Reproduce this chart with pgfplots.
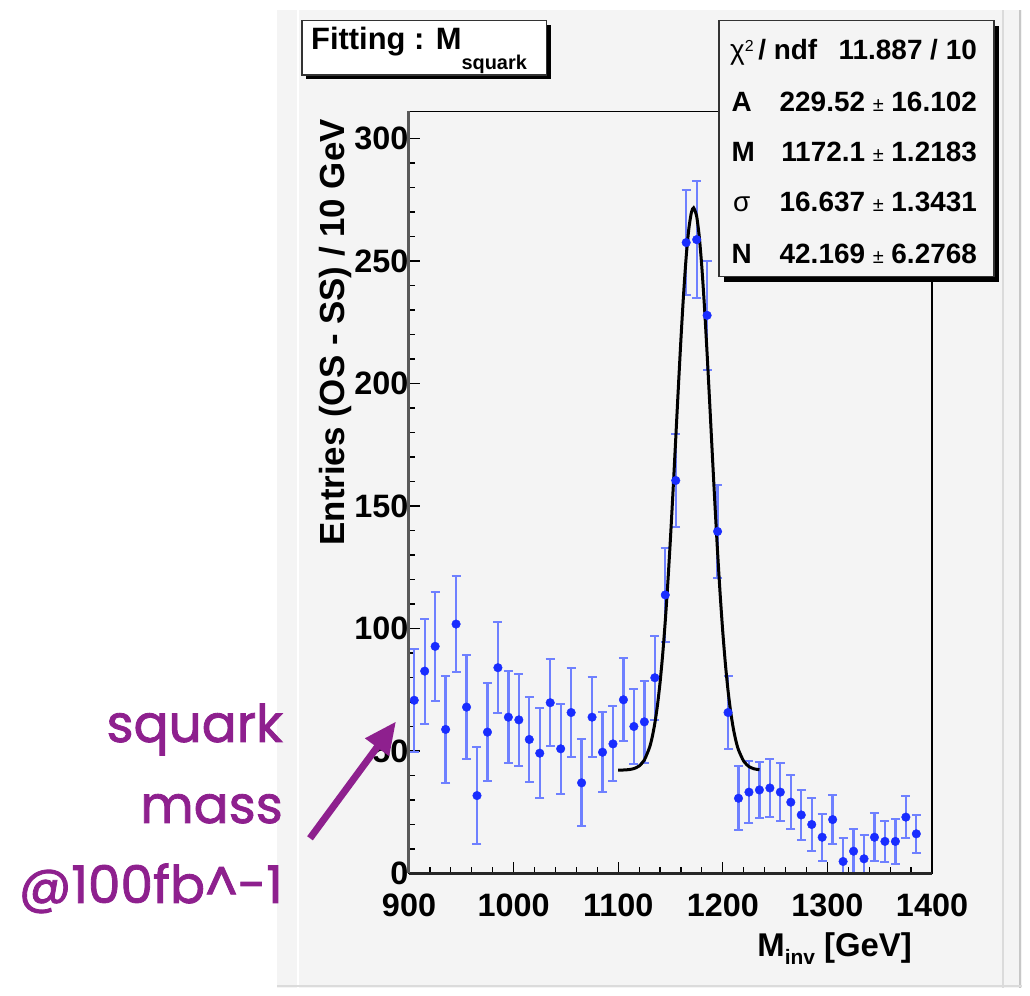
\documentclass[border=0pt]{standalone}
\usepackage{fontspec}
\setmainfont{Liberation Sans}
\newfontfamily\annfont[FakeBold=1.6]{Poppins}
\usepackage{pgfplots}
\usepackage{pgfplotstable}
\pgfplotsset{compat=1.18}
\usetikzlibrary{arrows.meta}
\definecolor{canvas}{RGB}{244,244,244}
\definecolor{markblue}{RGB}{25,45,255}
\definecolor{barblue}{RGB}{110,128,255}
\definecolor{annot}{RGB}{142,32,142}

\pgfplotstableread{
x y e
905 70.7 21.1
915 82.6 21.4
925 92.7 22.2
935 58.8 22.0
945 101.8 19.6
955 67.9 21.1
965 31.8 19.9
975 57.7 20.1
985 84.0 18.5
995 63.8 18.7
1005 62.7 18.7
1015 54.7 17.4
1025 49.1 18.3
1035 69.7 17.7
1045 50.9 18.4
1055 65.7 18.0
1065 37.0 17.7
1075 63.8 16.3
1085 49.5 16.3
1095 52.9 15.3
1105 70.9 17.0
1115 60.0 15.3
1125 61.9 16.6
1135 79.9 17.2
1145 113.7 19.3
1155 160.4 18.9
1165 257.5 21.4
1175 258.7 23.9
1185 227.8 22.2
1195 139.6 18.8
1205 65.7 14.7
1215 30.7 13.0
1225 33.2 12.7
1235 34.1 11.5
1245 34.9 11.9
1255 33.2 11.7
1265 29.1 11.0
1275 23.9 10.3
1285 20.0 10.9
1295 14.8 9.6
1305 22.0 9.9
1315 4.9 9.6
1325 9.1 9.1
1335 6.0 9.9
1345 14.8 9.9
1355 13.1 8.3
1365 13.1 9.2
1375 23.0 8.5
1385 16.2 7.8
}\histdata

\pgfplotstableread{
x y
1100 42.19
1105 42.24
1110 42.39
1115 42.81
1120 43.87
1125 46.34
1130 51.51
1132.5 55.68
1135 61.26
1137.5 68.57
1140 77.86
1142.5 89.31
1145 103.09
1147.5 119.08
1150 137.15
1152.5 156.84
1155 177.52
1157.5 198.34
1160 218.35
1162.5 236.48
1165 251.72
1167.5 263.08
1170 269.87
1172.1 271.69
1175 268.23
1177.5 259.91
1180 247.22
1182.5 230.95
1185 212.10
1187.5 191.73
1190 170.84
1192.5 150.39
1195 131.18
1197.5 113.73
1200 98.43
1202.5 85.39
1205 74.65
1207.5 66.04
1210 59.30
1212.5 54.20
1215 50.43
1220 45.81
1225 43.63
1230 42.71
1235 42.35
}\fitdata

\begin{document}
\begin{tikzpicture}[x=1bp,y=1bp]
\path[use as bounding box] (0,0) rectangle (1030,996);
% canvas
\fill[canvas] (277,8) rectangle (1022,986);
\draw[white, line width=2.5bp] (298,8) -- (298,986);
\draw[black!14, line width=1.5bp] (1003,8) -- (1003,986);
\draw[black!22, line width=2bp] (1020,8) -- (1020,986);
\draw[black!14, line width=1.5bp] (277,10) -- (1022,10);

\begin{axis}[
  at={(409bp,122.5bp)}, anchor=south west,
  scale only axis, width=523bp, height=762bp,
  xmin=900, xmax=1400, ymin=0, ymax=311,
  axis line style={line width=1.2bp, black},
  xtick={900,1000,...,1400}, ytick={0,50,...,300},
  minor x tick num=4, minor y tick num=4,
  tick align=inside, xtick pos=left, ytick pos=left,
  major tick length=11bp, minor tick length=6bp,
  every tick/.style={black, line width=1.2bp},
  tick label style={font=\fontsize{32.5}{32.5}\selectfont\bfseries},
  /pgf/number format/assume math mode=true,
  /pgf/number format/1000 sep={},
  xticklabel style={anchor=north, yshift=-17bp},
  yticklabel style={anchor=east, xshift=3bp},
]
\addplot[only marks, mark=*, mark size=4.3bp,
  mark options={draw=markblue, fill=markblue},
  error bars/.cd, y dir=both, y explicit,
  error bar style={barblue, line width=2.3bp},
  error mark options={rotate=90, mark size=4.5bp, barblue, line width=2bp}]
  table[x=x, y=y, y error=e] {\histdata};
\addplot[black, line width=3bp, smooth, tension=0.4] table[x=x, y=y] {\fitdata};
\end{axis}
% heavier left / bottom axis lines
\draw[black!85, line width=2.6bp] (409,122.5) -- (932,122.5);
\draw[black!65, line width=3.2bp] (408.5,122.5) -- (408.5,884.5);

% y label
\node[rotate=90, anchor=base east, inner sep=0pt, font=\fontsize{35}{35}\selectfont\bfseries]
  at (344,877) {Entries (OS - SS) / 10 GeV};
% x label
\node[anchor=base east, inner sep=0pt, font=\fontsize{33}{33}\selectfont\bfseries]
  at (912,39) {M\raisebox{-8bp}{\fontsize{21}{21}\selectfont inv} [GeV]};

% title box
\fill[black] (306,916.5) rectangle (551,971);
\filldraw[fill=white, draw=black!80, line width=1.5bp] (302,921) rectangle (546.5,975.3);
\node[anchor=base west, inner sep=0pt, font=\fontsize{31}{31}\selectfont\bfseries]
  at (311,946.7) {Fitting : M\raisebox{-20bp}{\fontsize{20}{20}\selectfont squark}};

% stats box
\fill[black] (724,714) rectangle (999,970);
\filldraw[fill=canvas, draw=black!80, line width=1.5bp] (719,719.3) rectangle (994,975.3);
\begin{scope}[every node/.style={inner sep=0pt, font=\fontsize{28}{28}\selectfont\bfseries}]
\node[anchor=base west] at (730,936) {{\mdseries χ\raisebox{8bp}{\fontsize{16}{16}\selectfont 2}}\,/ ndf};
\node[anchor=base east] at (977,936) {11.887 / 10};
\node[anchor=base west] at (731.5,884.3) {A};
\node[anchor=base east] at (977,884.3) {229.52 {\mdseries\fontsize{20}{20}\selectfont ±} 16.102};
\node[anchor=base west] at (731.5,834.3) {M};
\node[anchor=base east] at (977,834.3) {1172.1 {\mdseries\fontsize{20}{20}\selectfont ±} 1.2183};
\node[anchor=base west] at (733,784.3) {{\mdseries σ}};
\node[anchor=base east] at (977,784.3) {16.637 {\mdseries\fontsize{20}{20}\selectfont ±} 1.3431};
\node[anchor=base west] at (731.5,732.7) {N};
\node[anchor=base east] at (977,732.7) {42.169 {\mdseries\fontsize{20}{20}\selectfont ±} 6.2768};
\end{scope}

% annotation
\begin{scope}[every node/.style={inner sep=0pt, anchor=base east, text=annot, font=\annfont\fontsize{52}{52}\selectfont}]
\node at (283,254) {squark};
\node at (283,173) {mass};
\node at (283,93) {@100fb\textasciicircum-1};
\end{scope}
\draw[annot, line width=7bp, -{Triangle[length=32bp, width=28bp]}] (310,157.7) -- (396,274.5);
\end{tikzpicture}
\end{document}
